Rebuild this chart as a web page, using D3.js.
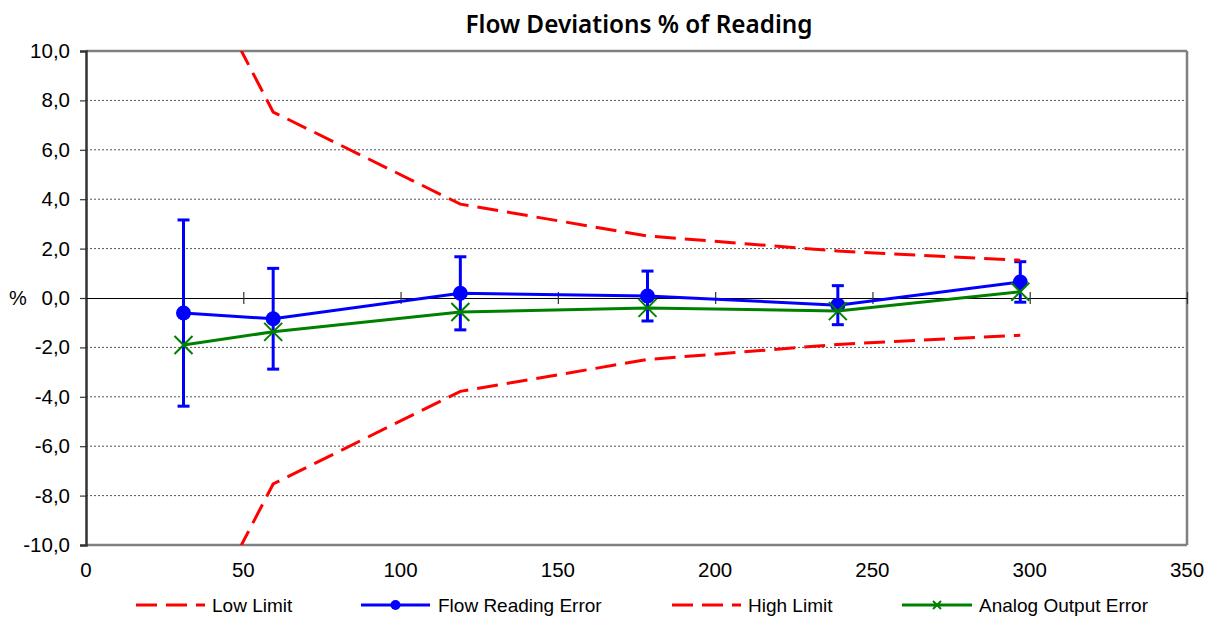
<!DOCTYPE html>
<html>
<head>
<meta charset="utf-8">
<script src="https://cdn.jsdelivr.net/npm/d3@7"></script>
<style>
  html, body { margin: 0; padding: 0; background: #fff; }
  svg { display: block; }
</style>
</head>
<body>
<svg id="chart" width="1223" height="617"></svg>
<script>
// ---- data ----
const xValues      = [31, 59.5, 119, 178.5, 239, 297];
const flowError    = [-0.61, -0.84, 0.19, 0.08, -0.29, 0.65];
const flowErrorBar = [3.77, 2.04, 1.48, 1.01, 0.79, 0.82];
const analogError  = [-1.9, -1.37, -0.57, -0.4, -0.53, 0.25];
const highLimit    = [14.5, 7.53, 3.8, 2.51, 1.9, 1.53];
const lowLimit     = [-14.5, -7.53, -3.78, -2.49, -1.88, -1.51];
const xTicks = [0, 50, 100, 150, 200, 250, 300, 350];
const yTicks = [-10, -8, -6, -4, -2, 0, 2, 4, 6, 8, 10];
const seriesNames = ["Low Limit", "Flow Reading Error", "High Limit", "Analog Output Error"];
const titleText = "Flow Deviations % of Reading";

// ---- layout ----
const svg = d3.select("#chart");
const L = 86, R = 1187, T = 51, B = 545;
const x = d3.scaleLinear().domain([0, 350]).range([L, R]);
const y = d3.scaleLinear().domain([-10, 10]).range([B, T]);
const fmtY = v => (v < 0 ? "-" : "") + Math.abs(v).toFixed(1).replace(".", ",");

svg.append("defs").append("clipPath").attr("id", "plotclip")
  .append("rect").attr("x", L).attr("y", T).attr("width", R - L).attr("height", B - T);

// title
svg.append("text").attr("x", 639).attr("y", 33)
  .attr("text-anchor", "middle")
  .style("font-family", "'Noto Sans', sans-serif")
  .style("font-weight", "600").style("font-size", "24.3px")
  .attr("fill", "#000").text(titleText);

// gridlines
svg.append("g").selectAll("line").data(yTicks.filter(v => v !== 0 && Math.abs(v) !== 10))
  .join("line")
  .attr("x1", L).attr("x2", R).attr("y1", d => y(d)).attr("y2", d => y(d))
  .attr("stroke", "#555").attr("stroke-width", 1).attr("stroke-dasharray", "2,2");

// frame
svg.append("line").attr("x1", L).attr("x2", R).attr("y1", T).attr("y2", T).attr("stroke", "#808080").attr("stroke-width", 2.5);
svg.append("line").attr("x1", L).attr("x2", R).attr("y1", B).attr("y2", B).attr("stroke", "#808080").attr("stroke-width", 2.5);
svg.append("line").attr("x1", R).attr("x2", R).attr("y1", T).attr("y2", B).attr("stroke", "#808080").attr("stroke-width", 2.5);

// y axis
const yAxis = d3.axisLeft(y).tickValues(yTicks).tickFormat(fmtY).tickSize(6).tickPadding(10);
const gy = svg.append("g").attr("transform", `translate(${L},0)`).call(yAxis);
gy.select(".domain").attr("stroke", "#333").attr("stroke-width", 2.5);
gy.selectAll(".tick line").attr("stroke", "#333").attr("stroke-width", 1.2);
gy.selectAll(".tick text").style("font-family", "'Liberation Sans', Arial, sans-serif")
  .style("font-size", "20.5px").attr("fill", "#000");

// % label
svg.append("text").attr("x", 9).attr("y", 298).attr("dy", "0.35em")
  .style("font-family", "'Liberation Sans', Arial, sans-serif").style("font-size", "20px").text("%");

// zero line with crossing ticks (x axis)
const xAxis = d3.axisBottom(x).tickValues(xTicks.filter(v => v !== 0)).tickFormat("").tickSizeInner(6).tickSizeOuter(0);
const gx = svg.append("g").attr("transform", `translate(0,${y(0)})`).call(xAxis);
gx.select(".domain").attr("stroke", "#000").attr("stroke-width", 1.2);
gx.selectAll(".tick line").attr("y1", -6).attr("y2", 6).attr("stroke", "#333").attr("stroke-width", 1.2);

// x tick labels along bottom
svg.append("g").selectAll("text").data(xTicks).join("text")
  .attr("x", d => x(d)).attr("y", 570).attr("dy", "0.35em").attr("text-anchor", "middle")
  .style("font-family", "'Liberation Sans', Arial, sans-serif").style("font-size", "20.5px")
  .text(d => d);

const plot = svg.append("g").attr("clip-path", "url(#plotclip)");
const line = d3.line().x(d => x(d[0])).y(d => y(d[1]));

// Low limit
plot.append("path").datum(xValues.map((v, i) => [v, lowLimit[i]])).attr("d", line)
  .attr("fill", "none").attr("stroke", "#ff0000").attr("stroke-width", 3).attr("stroke-dasharray", "21,9");

// Flow reading error with error bars
const blue = "#0000ff";
const eb = plot.append("g");
xValues.forEach((v, i) => {
  const hi = flowError[i] + flowErrorBar[i], lo = flowError[i] - flowErrorBar[i];
  eb.append("line").attr("x1", x(v)).attr("x2", x(v)).attr("y1", y(hi)).attr("y2", y(lo)).attr("stroke", blue).attr("stroke-width", 3);
  eb.append("line").attr("x1", x(v) - 6).attr("x2", x(v) + 6).attr("y1", y(hi)).attr("y2", y(hi)).attr("stroke", blue).attr("stroke-width", 3);
  eb.append("line").attr("x1", x(v) - 6).attr("x2", x(v) + 6).attr("y1", y(lo)).attr("y2", y(lo)).attr("stroke", blue).attr("stroke-width", 3);
});
plot.append("path").datum(xValues.map((v, i) => [v, flowError[i]])).attr("d", line)
  .attr("fill", "none").attr("stroke", blue).attr("stroke-width", 3);
plot.append("g").selectAll("circle").data(xValues.map((v, i) => [v, flowError[i]])).join("circle")
  .attr("cx", d => x(d[0])).attr("cy", d => y(d[1])).attr("r", 7.5).attr("fill", blue);

// High limit
plot.append("path").datum(xValues.map((v, i) => [v, highLimit[i]])).attr("d", line)
  .attr("fill", "none").attr("stroke", "#ff0000").attr("stroke-width", 3).attr("stroke-dasharray", "21,9");

// Analog output error
const green = "#008000";
plot.append("path").datum(xValues.map((v, i) => [v, analogError[i]])).attr("d", line)
  .attr("fill", "none").attr("stroke", green).attr("stroke-width", 3);
const gm = plot.append("g");
xValues.forEach((v, i) => {
  const cx = x(v), cy = y(analogError[i]), s = 9;
  gm.append("path").attr("d", `M${cx - s},${cy - s}L${cx + s},${cy + s}M${cx - s},${cy + s}L${cx + s},${cy - s}`)
    .attr("stroke", green).attr("stroke-width", 2).attr("fill", "none");
});

// legend
const legend = svg.append("g");
const legItems = [
  { name: seriesNames[0], x0: 136, x1: 205, tx: 212, color: "#ff0000", dash: "21,9", marker: null },
  { name: seriesNames[1], x0: 361, x1: 430, tx: 438, color: blue, dash: null, marker: "circle" },
  { name: seriesNames[2], x0: 672, x1: 741, tx: 748, color: "#ff0000", dash: "21,9", marker: null },
  { name: seriesNames[3], x0: 902, x1: 972, tx: 979, color: green, dash: null, marker: "x" }
];
const ly = 605;
legItems.forEach(it => {
  const ln = legend.append("line").attr("x1", it.x0).attr("x2", it.x1).attr("y1", ly).attr("y2", ly)
    .attr("stroke", it.color).attr("stroke-width", 3);
  if (it.dash) ln.attr("stroke-dasharray", it.dash);
  const mx = (it.x0 + it.x1) / 2;
  if (it.marker === "circle") legend.append("circle").attr("cx", mx).attr("cy", ly).attr("r", 5).attr("fill", it.color);
  if (it.marker === "x") legend.append("path")
    .attr("d", `M${mx - 4},${ly - 4}L${mx + 4},${ly + 4}M${mx - 4},${ly + 4}L${mx + 4},${ly - 4}`)
    .attr("stroke", it.color).attr("stroke-width", 2);
  legend.append("text").attr("x", it.tx).attr("y", ly).attr("dy", "0.35em")
    .style("font-family", "'Liberation Sans', Arial, sans-serif").style("font-size", "19px").text(it.name);
});
</script>
</body>
</html>
